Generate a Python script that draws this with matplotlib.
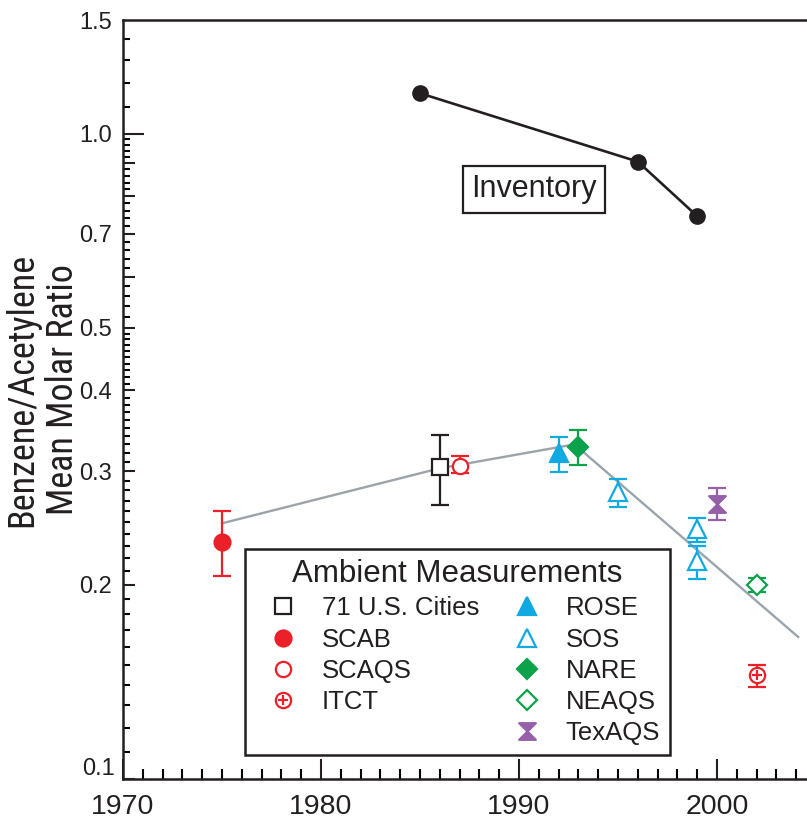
import matplotlib
matplotlib.use("Agg")
import matplotlib.pyplot as plt
from matplotlib import font_manager
from matplotlib.lines import Line2D
from matplotlib.path import Path
from matplotlib.legend_handler import HandlerTuple
from matplotlib.ticker import FixedLocator, NullFormatter

# ---- fonts ----
available = {f.name for f in font_manager.fontManager.ttflist}
BASE = "Liberation Sans" if "Liberation Sans" in available else "DejaVu Sans"
narrow_candidates = ["Liberation Sans Narrow", "Arial Narrow", "Roboto Condensed",
                     "Open Sans Condensed", "Noto Sans Condensed", "DejaVu Sans Condensed"]
NARROW = next((n for n in narrow_candidates if n in available), None)
plt.rcParams["font.family"] = [BASE, "DejaVu Sans"]

INK = "#231f20"
RED = "#ec2028"
BLUE = "#11a9e2"
GREEN = "#0ca14b"
PURPLE = "#9560a8"
GREY = "#9ba4aa"

# ---- data ----
inventory_year = [1985, 1996, 1999]
inventory_ratio = [1.155, 0.905, 0.745]

trend_year = [1975, 1986, 1992.8, 2004.1]
trend_ratio = [0.249, 0.303, 0.330, 0.166]

cities_year = [1986]
cities_ratio = [0.304]
cities_low = [0.266]
cities_high = [0.341]

scab_year = [1975]
scab_ratio = [0.233]
scab_low = [0.206]
scab_high = [0.260]

scaqs_year = [1987]
scaqs_ratio = [0.306]
scaqs_low = [0.298]
scaqs_high = [0.317]

itct_year = [2002]
itct_ratio = [0.145]
itct_low = [0.139]
itct_high = [0.150]

rose_year = [1992]
rose_ratio = [0.320]
rose_low = [0.299]
rose_high = [0.339]

sos_year = [1995, 1999, 1999]
sos_ratio = [0.278, 0.244, 0.218]
sos_low = [0.264, 0.233, 0.204]
sos_high = [0.292, 0.254, 0.230]

nare_year = [1993]
nare_ratio = [0.327]
nare_low = [0.307]
nare_high = [0.347]

neaqs_year = [2002]
neaqs_ratio = [0.200]
neaqs_low = [0.195]
neaqs_high = [0.205]

texaqs_year = [2000]
texaqs_ratio = [0.267]
texaqs_low = [0.252]
texaqs_high = [0.282]

y_major = [0.1, 0.2, 0.3, 0.4, 0.5, 0.6, 0.7, 0.8, 0.9, 1.0, 1.5]
y_labels = ["", "0.2", "0.3", "0.4", "0.5", "", "0.7", "", "", "1.0", "1.5"]
x_major = [1970, 1980, 1990, 2000]

# hourglass marker: two triangles meeting at the centre
hourglass = Path([(-1, 1), (1, 1), (-1, -1), (1, -1), (-1, 1)],
                 [Path.MOVETO, Path.LINETO, Path.LINETO, Path.LINETO, Path.CLOSEPOLY])

# ---- figure ----
W, H = 807, 818
fig = plt.figure(figsize=(W / 100, H / 100), dpi=100)
ax = fig.add_axes([123 / W, 39 / H, (W - 123) / W, (779 - 20) / H])
ax.set_yscale("log")
ax.set_xlim(1970, 1970 + (W - 123) / 19.8)
ax.set_ylim(0.1, 1.5)

for side in ("left", "bottom", "top"):
    ax.spines[side].set_linewidth(1.8)
    ax.spines[side].set_color(INK)
ax.spines["right"].set_visible(False)

# trend line through the ambient data
ax.plot(trend_year, trend_ratio, color=GREY, lw=1.7, zorder=2)

# inventory estimates
ax.plot(inventory_year, inventory_ratio, color=INK, lw=1.9, marker="o",
        ms=11, mfc=INK, mec=INK, zorder=4)
ax.text(1990.76, 0.820, "Inventory", fontsize=22, color=INK, ha="center", va="center",
        bbox=dict(boxstyle="square,pad=0.28", fc="white", ec=INK, lw=1.6), zorder=5)

series = [
    (cities_year, cities_ratio, cities_low, cities_high, INK, "s", "white", 11.5),
    (scab_year, scab_ratio, scab_low, scab_high, RED, "o", RED, 11.5),
    (scaqs_year, scaqs_ratio, scaqs_low, scaqs_high, RED, "o", "white", 11),
    (itct_year, itct_ratio, itct_low, itct_high, RED, "o", "white", 11),
    (rose_year, rose_ratio, rose_low, rose_high, BLUE, "^", BLUE, 13),
    (sos_year, sos_ratio, sos_low, sos_high, BLUE, "^", "white", 13),
    (nare_year, nare_ratio, nare_low, nare_high, GREEN, "D", GREEN, 10),
    (neaqs_year, neaqs_ratio, neaqs_low, neaqs_high, GREEN, "D", "white", 10),
    (texaqs_year, texaqs_ratio, texaqs_low, texaqs_high, PURPLE, hourglass, PURPLE, 12),
]
for yr, val, lo, hi, col, mk, fc, ms in series:
    err = [[v - l for v, l in zip(val, lo)], [h - v for v, h in zip(val, hi)]]
    ax.errorbar(yr, val, yerr=err, fmt="none", ecolor=col, elinewidth=1.6,
                capsize=6.2, capthick=1.6, zorder=3)
    ax.plot(yr, val, ls="none", marker=mk, ms=ms, mfc=fc, mec=col, mew=1.6, zorder=4)
# plus sign inside the ITCT circle
ax.plot(itct_year, itct_ratio, ls="none", marker="+", ms=7, mec=RED, mew=1.6, zorder=5)

# ---- ticks ----
ax.xaxis.set_major_locator(FixedLocator(x_major))
ax.xaxis.set_minor_locator(FixedLocator(list(range(1971, 2005))))
ax.tick_params(axis="x", which="major", direction="in", length=14.4, width=1.5,
               labelsize=20.5, pad=10.5, colors=INK, top=False)
ax.tick_params(axis="x", which="minor", direction="in", length=7.2, width=1.5,
               top=False)

y_minor = ([round(0.1 + 0.01 * i, 3) for i in range(1, 40)] +
           [round(0.5 + 0.02 * i, 3) for i in range(1, 25)] +
           [1.1, 1.2, 1.3, 1.4])
y_minor = [v for v in y_minor if v not in y_major]
ax.yaxis.set_major_locator(FixedLocator(y_major))
ax.yaxis.set_minor_locator(FixedLocator(y_minor))
ax.yaxis.set_minor_formatter(NullFormatter())
ax.set_yticklabels(y_labels)
ax.tick_params(axis="y", which="major", direction="in", length=8.8, width=1.5,
               labelsize=17, pad=8, colors=INK, right=False)
ax.tick_params(axis="y", which="minor", direction="in", length=5, width=1.5,
               right=False)
# the 1.0 tick is drawn longer
for t, v in zip(ax.yaxis.get_major_ticks(), y_major):
    if v == 1.0:
        t.tick1line.set_markersize(15)
    if v == 1.5:
        t.tick1line.set_visible(False)

# 0.1 label sits a little above the corner
ax.annotate("0.1", xy=(0, 0.1), xycoords=("axes fraction", "data"),
            xytext=(-6, 7), textcoords="offset points", ha="right", va="center",
            fontsize=17, color=INK)

if NARROW:
    ax.set_ylabel("Benzene/Acetylene\nMean Molar Ratio", family=[NARROW, "DejaVu Sans"],
                  fontsize=26, color=INK, linespacing=1.18)
else:
    ax.set_ylabel("Benzene/Acetylene\nMean Molar Ratio", fontsize=22,
                  color=INK, linespacing=1.3)
ax.yaxis.set_label_coords(-(123 - 81) / (W - 123), (779 - 390) / (779 - 20))

# ---- legend ----
blank = Line2D([], [], ls="none", marker="None")
def mk(marker, col, fc, ms):
    return Line2D([], [], ls="none", marker=marker, ms=ms, mfc=fc, mec=col, mew=1.6)

itct_handle = (mk("o", RED, "white", 11), mk("+", RED, RED, 7))
handles = [mk("s", INK, "white", 11.5), mk("o", RED, RED, 11.5), mk("o", RED, "white", 11),
           itct_handle, blank,
           mk("^", BLUE, BLUE, 13), mk("^", BLUE, "white", 13), mk("D", GREEN, GREEN, 10),
           mk("D", GREEN, "white", 10), mk(hourglass, PURPLE, PURPLE, 12)]
labels = ["71 U.S. Cities", "SCAB", "SCAQS", "ITCT", "",
          "ROSE", "SOS", "NARE", "NEAQS", "TexAQS"]
leg = ax.legend(handles, labels, ncol=2, loc="lower left",
                bbox_to_anchor=(0.178, 0.031), borderaxespad=0, fontsize=18.5,
                title="Ambient Measurements", title_fontsize=22.5,
                frameon=True, fancybox=False, edgecolor=INK, framealpha=1,
                borderpad=0.4, handlelength=2.2, handletextpad=0.4,
                columnspacing=0.76, labelspacing=0.28,
                handler_map={tuple: HandlerTuple(ndivide=1, pad=0)})
leg.get_frame().set_linewidth(1.8)
for txt in leg.get_texts():
    txt.set_color(INK)
leg.get_title().set_color(INK)
leg.set_zorder(6)

fig.savefig("out.png", dpi=100)
